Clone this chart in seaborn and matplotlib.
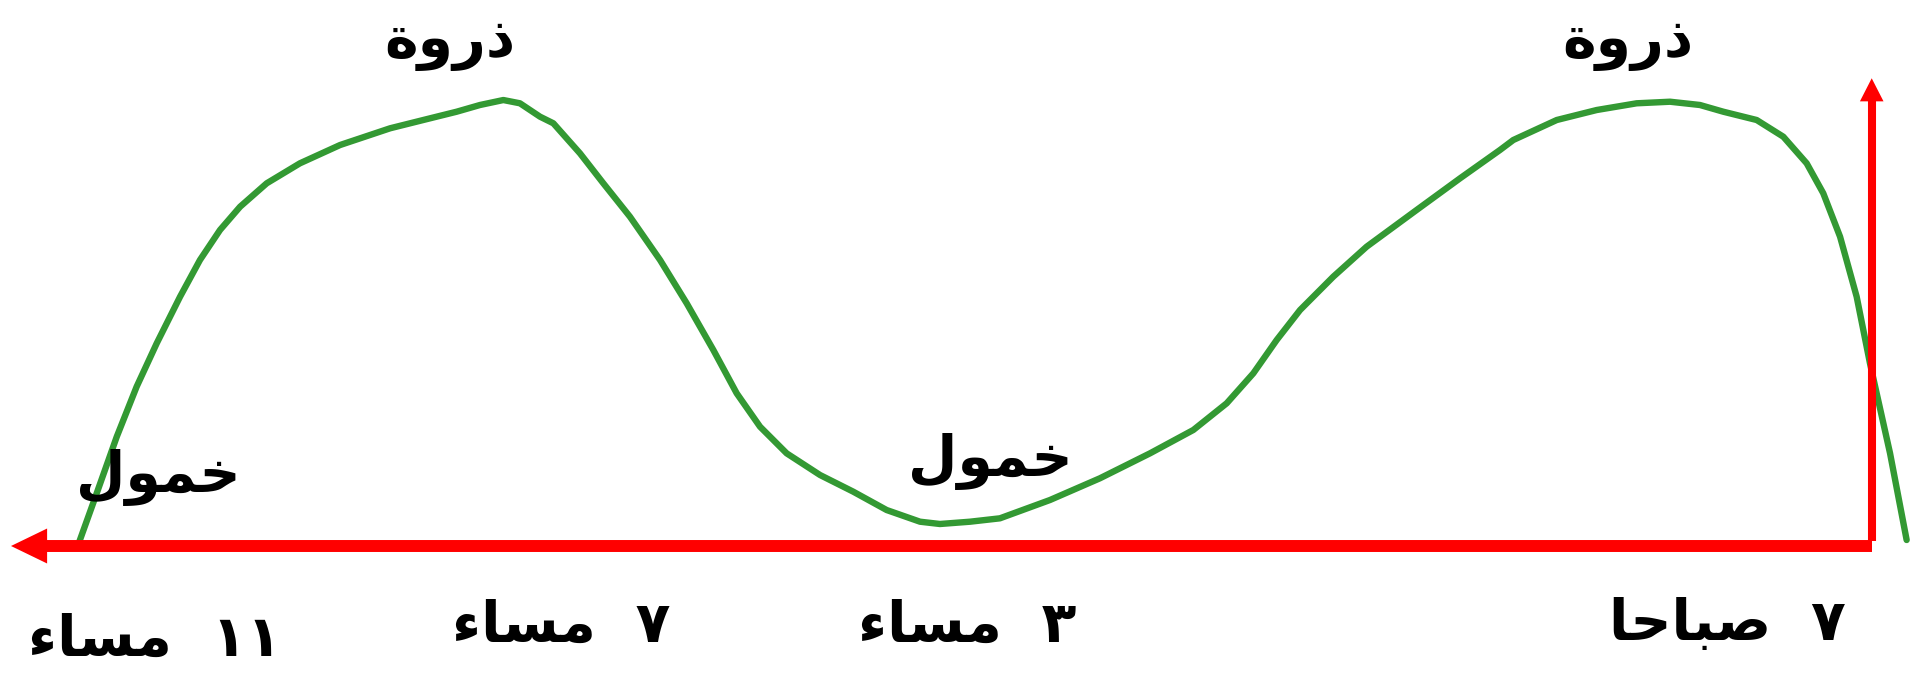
import matplotlib
matplotlib.use("Agg")
import matplotlib.pyplot as plt
import seaborn as sns
import pandas as pd

# ---------------- data ----------------
# curve: position along the time axis (0..100, right = morning) and activity level (0 = baseline)
curve_x = [4.11, 5.01, 6.05, 7.08, 8.12, 9.33, 10.36, 11.40, 12.44, 13.82, 15.54, 17.62,
           20.21, 21.93, 23.66, 24.87, 26.08, 26.94, 27.98, 28.67, 30.05, 31.26, 32.64,
           34.20, 35.58, 36.96, 38.17, 39.38, 40.76, 42.49, 44.21, 45.94, 47.67, 48.70,
           50.26, 51.81, 54.40, 56.99, 59.59, 61.83, 63.56, 64.94, 66.15, 67.36, 69.08,
           70.81, 73.40, 75.65, 77.72, 78.41, 80.66, 82.73, 84.80, 86.53, 88.08, 89.29,
           91.02, 92.40, 93.61, 94.47, 95.34, 96.20, 96.89, 97.93, 98.79]
curve_y = [0.79, 9.65, 20.02, 29.18, 37.12, 45.66, 52.38, 57.88, 62.14, 66.43, 70.09, 73.44,
           76.50, 78.02, 79.54, 80.77, 81.68, 81.08, 78.63, 77.42, 71.92, 66.43, 60.31,
           52.38, 44.45, 35.90, 27.97, 21.85, 16.97, 13.00, 9.95, 6.59, 4.45, 4.03,
           4.45, 5.07, 8.42, 12.40, 16.98, 21.25, 26.14, 31.63, 37.73, 43.22, 49.32,
           54.82, 61.54, 67.34, 72.53, 74.36, 78.02, 79.85, 81.08, 81.37, 80.77, 79.54,
           78.02, 74.96, 70.09, 64.60, 56.65, 45.66, 33.46, 16.98, 1.10]

peak_label = "ذروة"
low_label = "خمول"
peak_pos = [23.3, 84.35]
peak_lvl = [89.5, 89.5]
low_pos = [8.2, 51.3]
low_lvl = [9.9, 12.8]

time_labels = ["١١ مساء", "٧ مساء", "٣ مساء", "٧ صباحا"]
time_pos = [8.03, 29.07, 50.1, 89.5]
time_lvl = [-20.1, -17.6, -17.6, -17.2]

# ---------------- minimal Arabic shaping (matplotlib has no bidi/shaping) ----------------
FORMS = {  # iso, fin, ini, med
    "ذ": ("\uFEAB", "\uFEAC", None, None),
    "ر": ("\uFEAD", "\uFEAE", None, None),
    "و": ("\uFEED", "\uFEEE", None, None),
    "ة": ("\uFE93", "\uFE94", None, None),
    "ا": ("\uFE8D", "\uFE8E", None, None),
    "ء": ("\uFE80", None, None, None),
    "خ": ("\uFEA5", "\uFEA6", "\uFEA7", "\uFEA8"),
    "م": ("\uFEE1", "\uFEE2", "\uFEE3", "\uFEE4"),
    "ل": ("\uFEDD", "\uFEDE", "\uFEDF", "\uFEE0"),
    "س": ("\uFEB1", "\uFEB2", "\uFEB3", "\uFEB4"),
    "ص": ("\uFEB9", "\uFEBA", "\uFEBB", "\uFEBC"),
    "ب": ("\uFE8F", "\uFE90", "\uFE91", "\uFE92"),
    "ح": ("\uFEA1", "\uFEA2", "\uFEA3", "\uFEA4"),
}


def shape_word(word):
    out = []
    for i, c in enumerate(word):
        f = FORMS.get(c)
        if f is None:
            out.append(c)
            continue
        prev = word[i - 1] if i > 0 else None
        nxt = word[i + 1] if i < len(word) - 1 else None
        jp = prev in FORMS and FORMS[prev][2] is not None and f[1] is not None
        jn = f[2] is not None and nxt in FORMS and FORMS[nxt][1] is not None
        if jp and jn:
            out.append(f[3])
        elif jp:
            out.append(f[1])
        elif jn:
            out.append(f[2])
        else:
            out.append(f[0])
    return "".join(reversed(out))


def shape(text):
    toks = text.split(" ")
    vis = [shape_word(t) if any(ch in FORMS for ch in t) else t for t in toks]
    return "  ".join(reversed(vis))


# ---------------- figure ----------------
sns.set_theme(style="white")
plt.rcParams["font.family"] = ["DejaVu Sans"]

fig = plt.figure(figsize=(19.3, 6.73), dpi=100)
ax = fig.add_axes([0, 0, 1, 1])
ax.set_xlim(0, 100)
ax.set_ylim(-23.26, 100)
ax.axis("off")

df = pd.DataFrame({"x": curve_x, "y": curve_y})
sns.lineplot(data=df, x="x", y="y", ax=ax, color="#339933", lw=4.6, sort=False,
             estimator=None, zorder=2)

red = "#ff0000"
x_end = 96.98
x_tip = 0.57
y_tip = 85.66
# horizontal axis (arrow pointing left)
ax.plot([x_end, x_tip + 1.5], [0, 0], color=red, lw=8.6, solid_capstyle="butt", zorder=3)
ax.annotate("", xy=(x_tip, 0), xytext=(x_tip + 3, 0),
            arrowprops=dict(arrowstyle="-|>,head_length=26,head_width=12.6", mutation_scale=1,
                            lw=0, color=red, shrinkA=0, shrinkB=0), zorder=3)
# vertical axis (arrow pointing up)
ax.plot([x_end, x_end], [1.0, y_tip - 3], color=red, lw=5.8, solid_capstyle="butt", zorder=3)
ax.annotate("", xy=(x_end, y_tip), xytext=(x_end, y_tip - 6),
            arrowprops=dict(arrowstyle="-|>,head_length=16.6,head_width=8.5", mutation_scale=1,
                            lw=0, color=red, shrinkA=0, shrinkB=0), zorder=3)

FS = 41
for px, py in zip(peak_pos, peak_lvl):
    ax.text(px, py, shape(peak_label), ha="center", va="baseline", fontsize=FS,
            fontweight="bold", color="black")
for px, py in zip(low_pos, low_lvl):
    ax.text(px, py, shape(low_label), ha="center", va="baseline", fontsize=FS,
            fontweight="bold", color="black")
for lab, px, py in zip(time_labels, time_pos, time_lvl):
    ax.text(px, py, shape(lab), ha="center", va="baseline", fontsize=FS,
            fontweight="bold", color="black")

fig.savefig("out.png", dpi=100, facecolor="white")
